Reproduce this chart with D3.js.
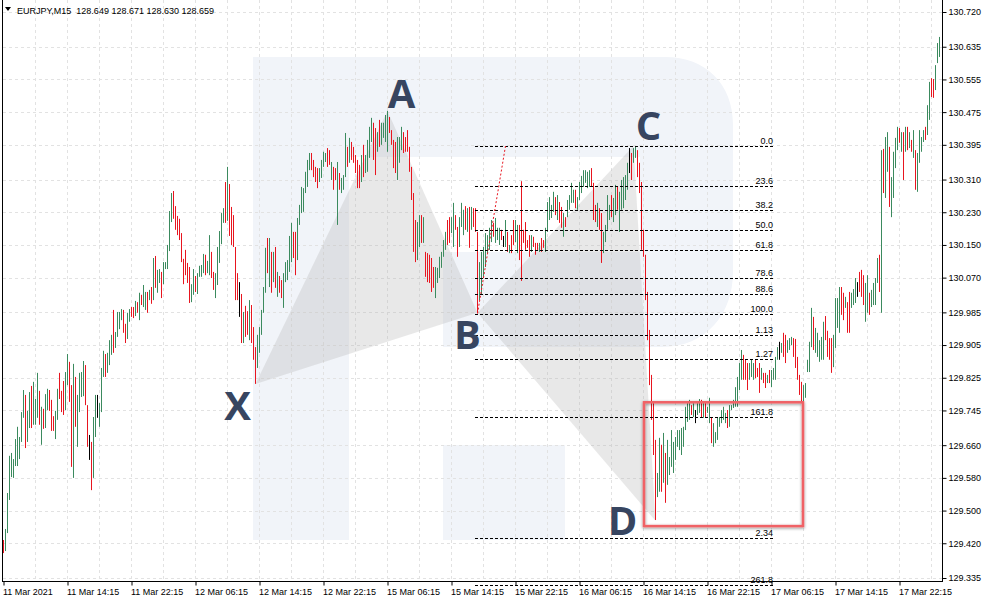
<!DOCTYPE html>
<html><head><meta charset="utf-8">
<script src="https://cdn.jsdelivr.net/npm/d3@7"></script>
<style>html,body{margin:0;padding:0;background:#fff;}svg{display:block;}</style>
</head><body>
<svg id="chart" width="987" height="602"></svg>
<script>
const headerText = "EURJPY,M15  128.649 128.671 128.630 128.659";

const highs = [
129.428,129.455,129.543,129.634,129.641,129.626,129.675,129.705,129.680,129.741,
129.795,129.783,129.744,129.790,129.805,129.815,129.773,129.837,129.793,129.754,
129.749,129.785,129.798,129.795,129.771,129.731,129.744,129.798,129.837,129.793,
129.817,129.839,129.883,129.864,129.807,129.859,129.827,129.783,129.837,129.839,
129.866,129.856,129.758,129.685,129.668,129.729,129.783,129.783,129.763,129.849,
129.891,129.883,129.886,129.917,129.930,129.991,129.937,129.986,129.986,129.993,
129.991,129.957,129.984,129.993,129.998,129.998,130.013,130.010,130.033,130.028,
130.052,130.035,130.035,130.040,130.047,130.118,130.123,130.089,130.091,130.084,
130.108,130.108,130.150,130.233,130.277,130.282,130.245,130.221,130.214,130.179,
130.116,130.138,130.106,130.096,130.054,130.091,130.074,130.081,130.099,130.101,
130.128,130.126,130.111,130.174,130.133,130.084,130.081,130.145,130.184,130.228,
130.240,130.304,130.341,130.299,130.243,130.223,130.145,130.081,130.059,130.030,
129.986,130.001,129.988,130.015,
130.003,129.949,129.900,129.930,129.949,129.991,130.047,130.143,130.167,130.167,
130.133,130.133,130.145,130.084,130.074,130.064,130.081,130.108,130.113,130.172,
130.204,130.182,130.182,130.216,130.248,130.292,130.289,130.329,130.358,130.375,
130.375,130.358,130.341,130.338,130.338,130.358,130.378,130.375,130.387,130.382,
130.353,130.341,130.338,130.353,130.326,130.314,130.321,130.424,130.390,130.412,
130.402,130.390,130.370,130.358,130.346,130.370,130.395,130.370,130.407,130.439,
130.461,130.449,130.436,130.426,130.456,130.449,130.449,130.468,130.478,130.463,
130.431,130.407,130.402,130.414,130.414,130.439,130.426,130.414,130.431,130.390,
130.341,130.277,130.211,130.206,130.223,130.223,130.218,130.133,130.130,130.126,
130.118,130.096,130.096,130.094,130.121,130.133,130.162,130.182,130.211,130.218,
130.218,130.253,130.223,130.194,130.218,130.253,130.236,130.245,130.240,130.243,
130.243,130.240,
130.240,130.182,130.108,130.133,130.145,130.179,
130.174,130.192,130.211,130.204,130.216,130.192,130.192,130.187,130.172,130.211,
130.182,130.150,130.174,130.211,130.211,130.199,130.199,130.306,130.187,130.206,
130.162,130.174,130.174,130.170,130.155,130.155,130.155,130.167,130.162,130.192,
130.255,130.267,130.248,130.280,130.267,130.272,130.255,130.243,130.228,130.218,
130.260,130.272,130.302,130.285,130.285,130.267,130.304,130.319,130.333,130.333,
130.329,130.333,130.338,130.302,130.248,130.253,130.240,130.228,130.182,130.199,
130.272,130.248,130.272,130.265,130.297,130.292,130.280,130.309,130.316,130.321,
130.351,130.387,130.375,130.387,130.392,130.382,130.351,130.304,130.187,
130.126,130.035,129.942,129.832,129.763,129.673,
129.592,129.678,129.661,129.690,129.641,129.673,129.631,129.697,129.668,129.680,
129.697,129.697,129.702,129.705,129.754,129.763,129.771,129.758,129.763,129.746,
129.763,129.773,129.771,129.763,129.766,129.754,129.776,129.729,129.714,129.692,
129.729,129.729,129.746,129.754,129.739,129.746,129.758,129.758,129.771,129.802,
129.827,129.861,129.893,129.881,129.869,129.861,129.861,129.869,129.861,129.869,
129.849,129.861,129.849,129.837,129.837,129.832,129.844,129.844,129.849,129.876,
129.900,129.913,129.910,129.935,129.930,129.917,129.922,
129.925,129.922,129.920,129.876,129.832,129.815,129.807,129.812,129.869,129.913,
129.996,129.974,129.947,129.935,129.917,129.925,129.962,129.976,129.940,129.922,
129.922,129.930,130.020,130.020,130.047,130.047,130.033,130.023,130.010,130.035,
130.033,130.042,130.069,130.059,130.084,130.089,130.076,130.057,130.076,130.033,
130.040,130.057,130.069,130.118,130.126,130.382,130.385,130.414,130.426,130.390,
130.316,130.378,130.412,130.439,130.436,130.426,130.426,130.439,130.439,130.426,
130.407,130.431,130.382,130.375,130.431,130.414,130.431,130.439,130.492,130.549,
130.558,130.556,130.590,130.644,130.659
];

const lows = [
129.396,129.401,129.445,129.526,129.582,129.580,129.609,129.609,129.626,129.668,
129.727,129.653,129.668,129.702,129.702,129.710,129.710,129.727,129.710,129.661,
129.700,129.702,129.746,129.744,129.695,129.695,129.675,129.722,129.773,129.741,
129.734,129.746,129.807,129.766,129.607,129.580,129.705,129.656,129.741,129.778,
129.780,129.758,129.656,129.624,129.550,129.580,129.680,129.727,129.705,129.741,
129.827,129.827,129.837,129.856,129.881,129.886,129.898,129.925,129.944,129.966,
129.935,129.910,129.920,129.962,129.974,129.971,129.976,129.984,129.966,130.003,
129.998,129.991,129.984,130.015,130.006,130.015,130.045,130.033,130.057,130.020,
130.054,130.091,130.091,130.135,130.206,130.214,130.187,130.174,130.162,130.108,
130.054,130.076,130.057,130.008,130.010,130.028,130.035,130.030,130.072,130.072,
130.081,130.076,130.081,130.076,130.069,130.040,130.020,130.052,130.106,130.152,
130.204,130.204,130.209,130.172,130.150,130.145,130.015,130.015,129.974,129.910,
129.910,129.925,129.930,129.917,
129.910,129.869,129.810,129.849,129.886,129.930,129.984,130.033,130.081,130.047,
130.033,130.059,130.045,130.023,130.033,130.020,129.996,130.059,130.064,130.084,
130.108,130.118,130.076,130.113,130.199,130.228,130.231,130.277,130.292,130.333,
130.333,130.316,130.304,130.289,130.304,130.314,130.341,130.353,130.341,130.346,
130.309,130.285,130.309,130.199,130.285,130.277,130.285,130.316,130.341,130.351,
130.358,130.351,130.326,130.289,130.289,130.304,130.316,130.326,130.329,130.363,
130.402,130.358,130.321,130.378,130.390,130.395,130.412,130.402,130.378,130.424,
130.395,130.338,130.326,130.309,130.351,130.382,130.375,130.378,130.378,130.329,
130.260,130.133,130.108,130.113,130.145,130.155,130.155,130.072,130.059,130.057,
130.035,130.045,130.020,130.057,130.069,130.094,130.121,130.138,130.150,130.155,
130.179,130.145,130.187,130.121,130.145,130.194,130.174,130.187,130.182,130.143,
130.187,130.194,
130.182,129.984,130.015,130.028,130.072,130.096,
130.130,130.138,130.157,130.170,130.155,130.162,130.150,130.162,130.145,130.145,
130.133,130.130,130.130,130.150,130.157,130.130,130.113,130.062,130.155,130.138,
130.143,130.121,130.133,130.145,130.126,130.138,130.133,130.133,130.143,130.133,
130.182,130.211,130.216,130.231,130.223,130.211,130.204,130.192,130.170,130.194,
130.218,130.236,130.253,130.253,130.240,130.236,130.260,130.277,130.292,130.302,
130.289,130.292,130.292,130.211,130.206,130.194,130.187,130.106,130.130,130.157,
130.187,130.211,130.218,130.206,130.223,130.236,130.182,130.236,130.240,130.260,
130.285,130.326,130.309,130.351,130.363,130.316,130.277,130.138,130.121,
130.015,129.917,129.807,129.722,129.636,129.477,
129.533,129.546,129.546,129.568,129.519,129.563,129.587,129.607,129.592,129.624,
129.656,129.648,129.636,129.656,129.697,129.717,129.722,129.734,129.729,129.714,
129.734,129.739,129.729,129.727,129.729,129.739,129.714,129.665,129.656,129.665,
129.673,129.705,129.714,129.722,129.714,129.702,129.705,129.746,129.751,129.754,
129.754,129.795,129.820,129.820,129.820,129.795,129.820,129.827,129.820,129.824,
129.827,129.788,129.820,129.812,129.800,129.812,129.812,129.802,129.820,129.820,
129.869,129.869,129.886,129.876,129.861,129.886,129.893,
129.905,129.876,129.849,129.820,129.783,129.763,129.746,129.776,129.839,129.839,
129.900,129.893,129.886,129.876,129.864,129.869,129.869,129.917,129.876,129.869,
129.837,129.851,129.898,129.947,129.935,129.979,129.966,129.996,129.935,129.935,
129.996,130.003,130.008,130.023,130.035,130.023,130.003,129.962,129.984,129.979,
129.998,130.003,130.003,130.057,130.035,129.984,130.277,130.265,130.329,130.243,
130.218,130.265,130.338,130.382,130.400,130.378,130.309,130.378,130.382,130.387,
130.378,130.363,130.285,130.280,130.351,130.378,130.402,130.407,130.419,130.456,
130.512,130.510,130.529,130.595,130.610
];

// bar direction: G = up, R = down, N = unchanged
const barDirs = (
 "RGGGGGGGGG"+"GRGGRGGGRG"+"RGGRRRGGRR"+"RGGRRGRGGG"+"GRRNRGGNGG"+"GRGGGRGGGG"+
 "RRGGRRGRGR"+"GGRGRGRGGR"+"GGGGGRRRRR"+"RRRRGGRGGG"+"GRGGRRGGGG"+"GRGRRRRRNR"+"GRRG"+
 "RRRGGGGGRG"+"RGRGRRGGGG"+"GRRGGGGGGG"+"RRRRGGGGRR"+"GRRGRGGGRG"+"RRRRRGRGGG"+
 "GRRGRGGGGR"+"RRRGGGRRRR"+"RRRGGRGRRR"+"RRGGGGGGRR"+"GGRRGGGRGR"+"GR"+
 "RRGGGG"+
 "GGGRGGGRNG"+"RGRRGGRRRR"+"RRGRRRGRRG"+"GGGGRGRRGR"+"GGGGRGGGGG"+"GGRRRGRRGG"+
 "GGRGGRGGGG"+"GNRGGRRRR"+
 "RRRRRR"+
 "GGRGRGGGGG"+"GGGGGGGRGN"+"GGRGRGGRGG"+"GGGGGRGGGG"+"GGGRRRGGGR"+"RRGRRGRGGG"+"GNGRRGG"+
 "GRRRRRGGGG"+"GRGGGGGRRR"+"RGGGGRRGRR"+"GGGNRRRGGR"+"GGGGRGRGGR"+"GGGGRGRGRG"+
 "RGRGGGGRGG"+"RRGGG"
).split("");

const priceTicks = [130.720,130.635,130.555,130.475,130.395,130.310,130.230,130.150,130.070,
  129.985,129.905,129.825,129.745,129.660,129.580,129.500,129.420,129.335];
const timeLabels = ["11 Mar 2021","11 Mar 14:15","11 Mar 22:15","12 Mar 06:15","12 Mar 14:15",
  "12 Mar 22:15","15 Mar 06:15","15 Mar 14:15","15 Mar 22:15","16 Mar 06:15","16 Mar 14:15",
  "16 Mar 22:15","17 Mar 06:15","17 Mar 14:15","17 Mar 22:15"];
const barsPerLabel = 32;
const barsPerGrid = 16;

// Harmonic pattern points (bar index, price)
const patternNames = ["X","A","B","C","D"];
const patternBars = [126, 192, 237, 315, 326];
const patternPrices = [129.810, 130.478, 129.984, 130.392, 129.475];

// Fibonacci tool: anchors and levels
const fibAnchorBars = [237, 251];
const fibAnchorPrices = [129.982, 130.392];
const fibLineBars = [236, 386];
const fibRatios = [0, 0.236, 0.382, 0.5, 0.618, 0.786, 0.886, 1, 1.13, 1.27, 1.618, 2.34, 2.618];
const fibLabels = ["0.0","23.6","38.2","50.0","61.8","78.6","88.6","100.0","1.13","1.27","161.8","2.34","261.8"];

// Highlight box
const boxBars = [320, 400];
const boxPrices = [129.765, 129.462];

const FONT = "'Liberation Sans', Arial, sans-serif";
const GREEN = "#3b8a5e", RED = "#e8151f";

const svg = d3.select("#chart");
const plotLeft = 2, plotRight = 942, plotBottom = 582;

const x = d3.scaleLinear().domain([0, highs.length - 1]).range([3, 939]);
const y = d3.scaleLinear().domain([129.335, 130.720]).range([578, 12]);

svg.append("rect").attr("width", 987).attr("height", 602).attr("fill", "#fff");

// watermark logo
const logo = svg.append("g").attr("fill", "#f1f4f9");
logo.append("rect").attr("x", 253).attr("y", 57).attr("width", 96).attr("height", 483);
logo.append("path").attr("d",
  "M349,57 H665 C706,57 733,84 733,125 V272 C733,314 706,347 662,347 H443 V252 H640 V157 H349 Z");
logo.append("rect").attr("x", 443).attr("y", 445).attr("width", 122).attr("height", 95);

// grid
const grid = svg.append("g").attr("stroke", "#e2e2e2").attr("stroke-width", 1)
  .attr("stroke-dasharray", "3,3");
grid.selectAll("line.h").data(priceTicks).join("line")
  .attr("x1", plotLeft + 1).attr("x2", plotRight)
  .attr("y1", d => Math.round(y(d)) + 0.5).attr("y2", d => Math.round(y(d)) + 0.5);
grid.selectAll("line.v").data(d3.range(barsPerGrid, highs.length, barsPerGrid)).join("line")
  .attr("x1", d => x(d) + 0.5).attr("x2", d => x(d) + 0.5)
  .attr("y1", 0).attr("y2", plotBottom);

// pattern triangles
const pt = i => [x(patternBars[i]) + 0.5, y(patternPrices[i])];
const tri = svg.append("g").attr("fill", "rgba(180,180,180,0.3)");
[[0,1,2],[2,3,4]].forEach(t => {
  tri.append("path").attr("d", "M" + t.map(i => pt(i).join(",")).join("L") + "Z");
});

// bars
const colorOf = d => d === "R" ? RED : d === "N" ? "#000" : GREEN;
svg.append("g").selectAll("rect").data(highs).join("rect")
  .attr("x", (d, i) => x(i))
  .attr("y", d => y(d))
  .attr("width", 1)
  .attr("height", (d, i) => Math.max(1, y(lows[i]) - y(d)))
  .attr("fill", (d, i) => colorOf(barDirs[i] || "G"));

// fibonacci
const fibTop = fibAnchorPrices[1], fibBase = fibAnchorPrices[0];
const fibPrice = r => fibTop - r * (fibTop - fibBase);
const fib = svg.append("g");
fib.selectAll("line").data(fibRatios).join("line")
  .attr("x1", x(fibLineBars[0])).attr("x2", x(fibLineBars[1]))
  .attr("y1", d => Math.round(y(fibPrice(d))) + 0.5).attr("y2", d => Math.round(y(fibPrice(d))) + 0.5)
  .attr("stroke", "#000").attr("stroke-width", 1).attr("stroke-dasharray", "3,2");
fib.selectAll("text").data(fibRatios).join("text")
  .attr("x", x(fibLineBars[1]) - 2)
  .attr("y", d => Math.round(y(fibPrice(d))) - 2)
  .attr("text-anchor", "end").attr("font-family", FONT).attr("font-size", 9).attr("fill", "#000")
  .text((d, i) => fibLabels[i]);
svg.append("line")
  .attr("x1", x(fibAnchorBars[0]) + 0.5).attr("y1", y(fibAnchorPrices[0]))
  .attr("x2", x(fibAnchorBars[1]) + 0.5).attr("y2", y(fibAnchorPrices[1]))
  .attr("stroke", RED).attr("stroke-width", 1).attr("stroke-dasharray", "2,2");

// highlight box
const defs = svg.append("defs");
const f = defs.append("filter").attr("id", "sh").attr("x", "-10%").attr("y", "-10%")
  .attr("width", "120%").attr("height", "120%");
f.append("feDropShadow").attr("dx", 0).attr("dy", 1).attr("stdDeviation", 1.6)
  .attr("flood-color", "#000").attr("flood-opacity", 0.45);
svg.append("rect")
  .attr("x", x(boxBars[0]) + 1).attr("y", y(boxPrices[0]))
  .attr("width", x(boxBars[1]) - x(boxBars[0]) - 1).attr("height", y(boxPrices[1]) - y(boxPrices[0]))
  .attr("fill", "none").attr("stroke", "#f06266").attr("stroke-width", 2.5)
  .attr("filter", "url(#sh)");

// pattern labels
const labelOffsets = [[-18, 21], [14, -18], [-10, 21], [15, -22], [-33, -1]];
svg.append("g").selectAll("text").data(patternNames).join("text")
  .attr("x", (d, i) => pt(i)[0] + labelOffsets[i][0])
  .attr("y", (d, i) => pt(i)[1] + labelOffsets[i][1])
  .attr("text-anchor", "middle").attr("dominant-baseline", "central")
  .attr("font-family", "'Open Sans', sans-serif").attr("font-weight", 700).attr("font-size", 40)
  .attr("fill", "#374560").text(d => d);

// frame
const frame = svg.append("g").attr("stroke", "#000").attr("stroke-width", 1);
frame.append("line").attr("x1", plotLeft + 0.5).attr("x2", plotLeft + 0.5).attr("y1", 0).attr("y2", plotBottom);
frame.append("line").attr("x1", plotRight + 0.5).attr("x2", plotRight + 0.5).attr("y1", 0).attr("y2", plotBottom);
frame.append("line").attr("x1", plotLeft).attr("x2", plotRight + 1).attr("y1", plotBottom - 0.5).attr("y2", plotBottom - 0.5);

// price axis
const yAxis = d3.axisRight(y).tickValues(priceTicks).tickFormat(d3.format(".3f")).tickSize(4).tickPadding(2);
const ya = svg.append("g").attr("transform", `translate(${plotRight + 0.5},0)`).call(yAxis);
ya.select(".domain").remove();
ya.selectAll("text").attr("font-family", FONT).attr("font-size", 9).attr("fill", "#000");
ya.selectAll("line").attr("stroke", "#000");

// time axis
const timeBars = timeLabels.map((d, i) => i * barsPerLabel);
const xAxis = d3.axisBottom(x).tickValues(timeBars).tickFormat((d, i) => timeLabels[i]).tickSize(4).tickPadding(3);
const xa = svg.append("g").attr("transform", `translate(0.5,${plotBottom - 0.5})`).call(xAxis);
xa.select(".domain").remove();
xa.selectAll("text").attr("font-family", FONT).attr("font-size", 9).attr("fill", "#000")
  .attr("text-anchor", "start").attr("dx", -1);
xa.selectAll("line").attr("stroke", "#000");

// header
svg.append("path").attr("d", "M5,7 L11,7 L8,11 Z").attr("fill", "#000");
svg.append("text").attr("x", 17).attr("y", 14).attr("font-family", FONT).attr("font-size", 9)
  .attr("fill", "#000").attr("xml:space", "preserve").style("white-space", "pre").text(headerText);
</script>
</body></html>
